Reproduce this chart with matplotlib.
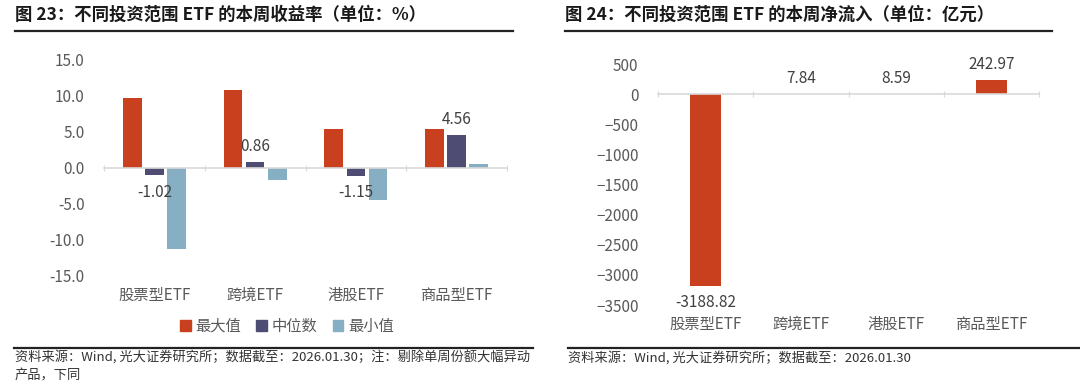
import numpy as np
import matplotlib
matplotlib.use('Agg')
import matplotlib.pyplot as plt
from matplotlib.patches import Patch
from matplotlib.lines import Line2D

plt.rcParams['font.family'] = ['Noto Sans CJK SC', 'DejaVu Sans']

# ---------------
# Data
cats = ['股票型ETF', '跨境ETF', '港股ETF', '商品型ETF']

# weekly return (%)
ret_max = [9.7, 10.9, 5.4, 5.4]
ret_med = [-1.02, 0.86, -1.15, 4.56]
ret_min = [-11.3, -1.6, -4.5, 0.55]

# weekly net inflow (100m CNY)
flow = [-3188.82, 7.84, 8.59, 242.97]

left_ticks = [15.0, 10.0, 5.0, 0.0, -5.0, -10.0, -15.0]
right_ticks = [500, 0, -500, -1000, -1500, -2000, -2500, -3000, -3500]

# ---------------
# Style
c_red = '#C9401F'
c_navy = '#4E4C72'
c_blue = '#86AFC4'
c_tick = '#595959'
c_lab = '#404040'
c_axis = '#D9D9D9'
fs = 11

W, H = 1080, 384
fig = plt.figure(figsize=(W / 100, H / 100), dpi=100)


def fx(px):
    return px / W


def fy(py):
    return 1 - py / H


def frame(ax):
    for s in ['top', 'right', 'left']:
        ax.spines[s].set_visible(False)
    ax.spines['bottom'].set_position(('data', 0))
    ax.spines['bottom'].set_color(c_axis)
    ax.spines['bottom'].set_linewidth(1.2)
    # boundary ticks on the zero line
    ax.set_xticks([-0.5, 0.5, 1.5, 2.5, 3.5])
    ax.set_xticklabels([])
    ax.tick_params(axis='x', length=4, color=c_axis, direction='inout')
    ax.tick_params(axis='y', length=0, pad=14, labelsize=fs, labelcolor=c_tick)
    ax.set_xlim(-0.5, 3.5)
    # category labels at the bottom of the axes
    sec = ax.secondary_xaxis(0)
    sec.set_xticks(np.arange(len(cats)), cats)
    sec.tick_params(length=0, labelsize=fs, labelcolor=c_tick, pad=8)
    sec.spines['bottom'].set_visible(False)


# -------------------------
# Left: returns
ax1 = fig.add_axes([fx(104), fy(276), fx(403), (276 - 60) / H])
x = np.arange(len(cats))
bw = 0.185
off = 0.22
ax1.bar(x - off, ret_max, bw, color=c_red, label='最大值')
ax1.bar(x, ret_med, bw, color=c_navy, label='中位数')
ax1.bar(x + off, ret_min, bw, color=c_blue, label='最小值')
ax1.set_ylim(-15, 15)
ax1.set_yticks(left_ticks)
ax1.set_yticklabels([f'{v:.1f}' for v in left_ticks])
frame(ax1)
for xi, v in zip(x, ret_med):
    ax1.annotate(f'{v:.2f}', (xi, v), xytext=(0, 11 if v > 0 else -12),
                 textcoords='offset points', ha='center', va='center',
                 fontsize=fs, color=c_lab)

handles = [Patch(color=c_red), Patch(color=c_navy), Patch(color=c_blue)]
fig.legend(handles, ['最大值', '中位数', '最小值'], loc='center',
           bbox_to_anchor=(fx(287), fy(326)), ncol=3, frameon=False,
           fontsize=fs, labelcolor=c_tick, handlelength=0.7, handleheight=0.7,
           handletextpad=0.3, columnspacing=1.0)

# -------------------------
# Right: net inflow
ax2 = fig.add_axes([fx(658), fy(305), fx(381), (305 - 64.3) / H])
ax2.bar(x, flow, 0.325, color=c_red)
ax2.set_ylim(-3500, 500)
ax2.set_yticks(right_ticks)
frame(ax2)
for xi, v in zip(x, flow):
    ax2.annotate(f'{v:.2f}', (xi, v), xytext=(0, 11 if v > 0 else -12),
                 textcoords='offset points', ha='center', va='center',
                 fontsize=fs, color=c_lab)

# -------------------------
# Titles, rules and source notes
fig.text(fx(15), fy(15), '图 23：不同投资范围 ETF 的本周收益率（单位：%）',
         fontsize=12.5, fontweight='bold', color='#1a1a1a', va='center')
fig.text(fx(565), fy(15), '图 24：不同投资范围 ETF 的本周净流入（单位：亿元）',
         fontsize=12.5, fontweight='bold', color='#1a1a1a', va='center')

for x0, x1, yy in [(15, 513, 31), (565, 1052, 31), (14, 533, 348), (568, 1080, 348)]:
    fig.add_artist(Line2D([fx(x0), fx(x1)], [fy(yy), fy(yy)], color='#222222', lw=1.6))

fig.text(fx(15), fy(358), '资料来源：Wind, 光大证券研究所；数据截至：2026.01.30；注：剔除单周份额大幅异动',
         fontsize=9.5, color='#333333', va='center')
fig.text(fx(15), fy(376), '产品，下同', fontsize=9.5, color='#333333', va='center')
fig.text(fx(568), fy(358), '资料来源：Wind, 光大证券研究所；数据截至：2026.01.30',
         fontsize=9.5, color='#333333', va='center')

fig.savefig('out.png', dpi=100)
